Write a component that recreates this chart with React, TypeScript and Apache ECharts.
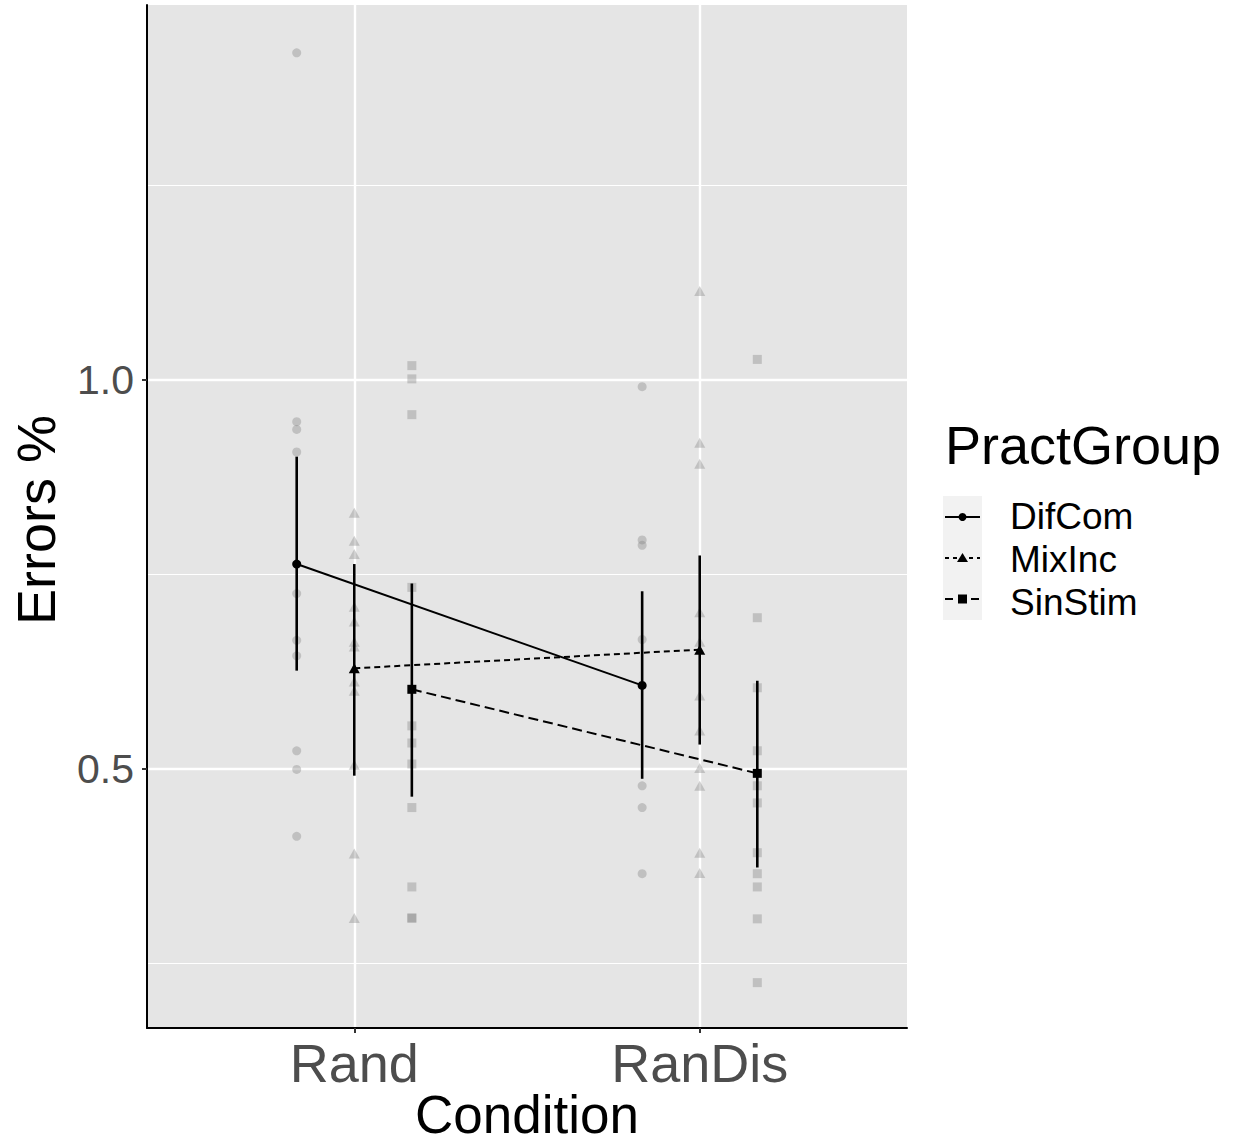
import React, { useEffect, useRef } from "react";
import * as echarts from "echarts";

const categories = ["Rand", "RanDis"];
const groups = ["DifCom", "MixInc", "SinStim"];
const dodgeOffsets = [-1 / 6, 0, 1 / 6];

// raw observations per group: [Rand, RanDis]
const difComRaw = [
  [1.42, 0.946, 0.936, 0.907, 0.725, 0.665, 0.645, 0.523, 0.499, 0.413],
  [0.991, 0.794, 0.787, 0.666, 0.478, 0.45, 0.365],
];
const mixIncRaw = [
  [0.829, 0.793, 0.776, 0.708, 0.689, 0.663, 0.657, 0.612, 0.6, 0.505, 0.391, 0.308],
  [1.114, 0.919, 0.892, 0.701, 0.663, 0.594, 0.549, 0.501, 0.478, 0.392, 0.366],
];
const sinStimRaw = [
  [1.018, 1.001, 0.955, 0.733, 0.555, 0.533, 0.506, 0.45, 0.348, 0.308, 0.308],
  [1.026, 0.694, 0.604, 0.523, 0.478, 0.456, 0.392, 0.365, 0.348, 0.307, 0.225],
];

// means and interval bounds per group: [Rand, RanDis]
const difComMean = [0.763, 0.607];
const difComLow = [0.626, 0.487];
const difComHigh = [0.901, 0.728];
const mixIncMean = [0.629, 0.653];
const mixIncLow = [0.491, 0.531];
const mixIncHigh = [0.763, 0.774];
const sinStimMean = [0.602, 0.494];
const sinStimLow = [0.464, 0.373];
const sinStimHigh = [0.738, 0.613];

const yTickValues = [0.5, 1.0];
const yMajorGrid = [0.5, 1.0];
const yMinorGrid = [0.25, 0.75, 1.25];

const FONT = "Liberation Sans, Arial, Helvetica, sans-serif";

export default function App() {
  const ref = useRef<HTMLDivElement>(null);

  useEffect(() => {
    if (!ref.current) return;
    const chart = echarts.init(ref.current, null, { renderer: "svg" });

    const raws = [difComRaw, mixIncRaw, sinStimRaw];
    const means = [difComMean, mixIncMean, sinStimMean];
    const lows = [difComLow, mixIncLow, sinStimLow];
    const highs = [difComHigh, mixIncHigh, sinStimHigh];
    const rawSymbols = ["circle", "triangle", "rect"];
    const rawSizes: any[] = [9, [11, 10], 9];
    const meanSizes: any[] = [9, [11, 10], 9];
    const dashes: any[] = ["solid", [6, 4], [10, 5]];

    const series: any[] = [];

    // grid lines
    series.push({
      type: "line",
      data: [],
      silent: true,
      z: 0,
      markLine: {
        silent: true,
        symbol: "none",
        z: 0,
        label: { show: false },
        animation: false,
        data: [
          ...yMinorGrid.map((v) => ({ yAxis: v, lineStyle: { color: "#ffffff", width: 1.2, type: "solid" } })),
          ...yMajorGrid.map((v) => ({ yAxis: v, lineStyle: { color: "#ffffff", width: 2.4, type: "solid" } })),
          ...categories.map((_, i) => ({ xAxis: i + 1, lineStyle: { color: "#ffffff", width: 2.4, type: "solid" } })),
        ],
      },
    });

    groups.forEach((g, gi) => {
      const pts: number[][] = [];
      categories.forEach((_, ci) => {
        raws[gi][ci].forEach((v) => pts.push([ci + 1 + dodgeOffsets[gi], v]));
      });
      series.push({
        type: "scatter",
        name: g + " raw",
        data: pts,
        symbol: rawSymbols[gi],
        symbolSize: rawSizes[gi],
        itemStyle: { color: "rgba(128,128,128,0.45)" },
        z: 2,
      });
    });

    groups.forEach((g, gi) => {
      series.push({
        type: "custom",
        name: g + " err",
        data: categories.map((_, ci) => [ci + 1 + dodgeOffsets[gi], lows[gi][ci], highs[gi][ci]]),
        encode: { x: 0, y: [1, 2] },
        renderItem: (params: any, api: any) => {
          const x = api.value(0);
          const p1 = api.coord([x, api.value(1)]);
          const p2 = api.coord([x, api.value(2)]);
          return {
            type: "line",
            shape: { x1: p1[0], y1: p1[1], x2: p2[0], y2: p2[1] },
            style: { stroke: "#000000", lineWidth: 2.6 },
          };
        },
        z: 3,
      });
      series.push({
        type: "line",
        name: g,
        data: categories.map((_, ci) => [ci + 1 + dodgeOffsets[gi], means[gi][ci]]),
        symbol: rawSymbols[gi],
        symbolSize: meanSizes[gi],
        showSymbol: true,
        itemStyle: { color: "#000000" },
        lineStyle: { color: "#000000", width: 2, type: dashes[gi] },
        z: 4,
      });
    });

    // legend drawn manually
    const keyY = [517, 558, 599];
    const labelY = [516, 559, 602];
    const legendEls: any[] = [
      { type: "rect", shape: { x: 943, y: 496, width: 39, height: 124 }, style: { fill: "#f2f2f2" } },
    ];
    groups.forEach((g, gi) => {
      const y = keyY[gi];
      legendEls.push({
        type: "line",
        shape: { x1: 945, y1: y, x2: 980, y2: y },
        style: {
          stroke: "#000",
          lineWidth: 2,
          lineDash: gi === 0 ? null : gi === 1 ? [4, 4] : [8, 5],
        },
      });
      if (gi === 0) legendEls.push({ type: "circle", shape: { cx: 962.5, cy: y, r: 4 }, style: { fill: "#000" } });
      if (gi === 1)
        legendEls.push({
          type: "polygon",
          shape: { points: [[962.5, y - 5], [968, y + 4], [957, y + 4]] },
          style: { fill: "#000" },
        });
      if (gi === 2)
        legendEls.push({ type: "rect", shape: { x: 958, y: y - 4.5, width: 9, height: 9 }, style: { fill: "#000" } });
      legendEls.push({
        type: "text",
        x: 1010,
        y: labelY[gi],
        style: {
          text: g,
          fill: "#000",
          font: `37px ${FONT}`,
          lineHeight: 38,
          textAlign: "left",
          textVerticalAlign: "middle",
        },
      });
    });

    chart.setOption({
      animation: false,
      textStyle: { fontFamily: FONT },
      grid: {
        left: 147,
        top: 5,
        right: 1236 - 907,
        bottom: 1143 - 1028,
        show: true,
        backgroundColor: "#e5e5e5",
        borderWidth: 0,
      },
      xAxis: {
        type: "value",
        min: 0.4,
        max: 2.6,
        axisLine: { show: true, onZero: false, lineStyle: { color: "#000", width: 2 } },
        axisTick: { show: true, customValues: [1, 2], length: 5, lineStyle: { color: "#333", width: 2 } },
        axisLabel: {
          show: true,
          customValues: [1, 2],
          formatter: (v: number) => categories[Math.round(v) - 1] ?? "",
          fontSize: 54,
          color: "#4d4d4d",
          margin: 8,
          fontFamily: FONT,
        },
        splitLine: { show: false },
      },
      yAxis: {
        type: "value",
        min: 0.1667,
        max: 1.4815,
        axisLine: { show: true, onZero: false, lineStyle: { color: "#000", width: 2 } },
        axisTick: { show: true, customValues: yTickValues, length: 5, lineStyle: { color: "#333", width: 2 } },
        axisLabel: {
          show: true,
          customValues: yTickValues,
          formatter: (v: number) => v.toFixed(1),
          fontSize: 41,
          color: "#4d4d4d",
          margin: 13,
          fontFamily: FONT,
        },
        splitLine: { show: false },
      },
      graphic: [
        {
          type: "text",
          x: 527,
          y: 1114,
          style: {
            text: "Condition",
            fill: "#000",
            font: `53px ${FONT}`,
            lineHeight: 50,
            textAlign: "center",
            textVerticalAlign: "middle",
          },
        },
        {
          type: "text",
          x: 36,
          y: 520,
          rotation: Math.PI / 2,
          style: { text: "Errors %", fill: "#000", font: `54px ${FONT}`, textAlign: "center", textVerticalAlign: "middle" },
        },
        {
          type: "text",
          x: 945,
          y: 445,
          style: { text: "PractGroup", fill: "#000", font: `54px ${FONT}`, textAlign: "left", textVerticalAlign: "middle" },
        },
        ...legendEls,
      ],
      series,
    });

    return () => chart.dispose();
  }, []);

  return (
    <div
      ref={ref}
      style={{ position: "fixed", left: 0, top: 0, width: 1236, height: 1143, background: "#ffffff" }}
    />
  );
}
